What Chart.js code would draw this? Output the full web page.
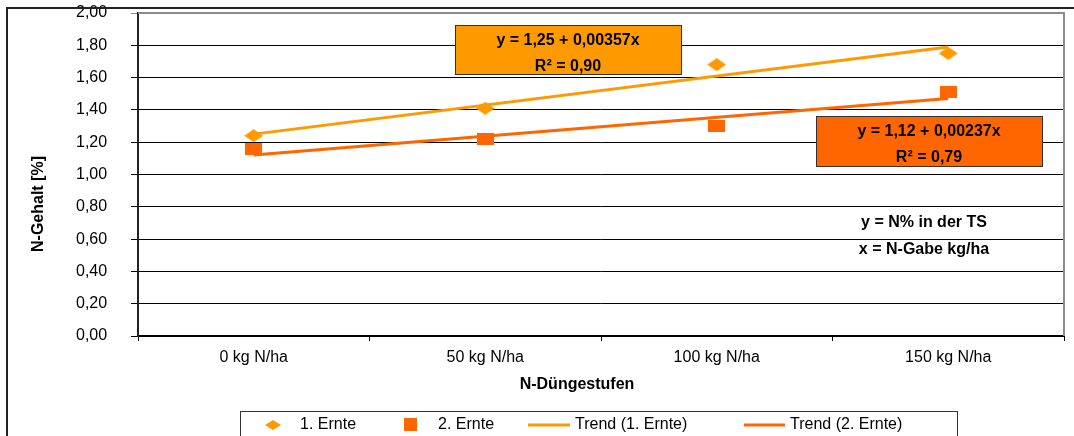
<!DOCTYPE html>
<html>
  <head>
    <title>N-Gehalt</title>
    <meta charset="utf-8" />
    <style>
      body { margin: 0; background: #fff; }
      #chart-container { width: 1074px; height: 436px; }
    </style>
  </head>
  <body>
    <div id="chart-container">
      <canvas id="n-chart" width="1074" height="436"></canvas>
    </div>

    <script src="https://cdn.jsdelivr.net/npm/chart.js"></script>
    <script>
      // values
      var stufen = ["0 kg N/ha", "50 kg N/ha", "100 kg N/ha", "150 kg N/ha"];
      var ernte1 = [1.24, 1.41, 1.68, 1.75];
      var ernte2 = [1.16, 1.22, 1.30, 1.51];
      // trend lines: start and end values, gaps in between
      var trend1 = [1.25, null, null, 1.79];
      var trend2 = [1.12, null, null, 1.47];
      var seriesNames = ["1. Ernte", "2. Ernte", "Trend (1. Ernte)", "Trend (2. Ernte)"];
      var yTicks = [0, 0.2, 0.4, 0.6, 0.8, 1.0, 1.2, 1.4, 1.6, 1.8, 2.0];

      var hell = "#FF9900";
      var dunkel = "#FF6600";
      var font = 'Arial, "Liberation Sans", sans-serif';

      Chart.defaults.font.family = font;
      Chart.defaults.font.size = 16;
      Chart.defaults.color = "#000";

      function makeDiamond(w, h, color) {
        var c = document.createElement("canvas");
        c.width = w;
        c.height = h;
        var g = c.getContext("2d");
        g.fillStyle = color;
        g.beginPath();
        g.moveTo(w / 2, 0);
        g.lineTo(w, h / 2);
        g.lineTo(w / 2, h);
        g.lineTo(0, h / 2);
        g.closePath();
        g.fill();
        return c;
      }

      function makeSquare(w, h, color) {
        var c = document.createElement("canvas");
        c.width = w;
        c.height = h;
        var g = c.getContext("2d");
        g.fillStyle = color;
        g.fillRect(0, 0, w, h);
        return c;
      }

      function fmt(v) {
        return v.toFixed(2).replace(".", ",");
      }

      var extras = {
        id: "extras",
        afterDraw: function (chart) {
          var ctx = chart.ctx;
          var a = chart.chartArea;
          ctx.save();

          // outer frame (left + top)
          ctx.strokeStyle = "#222";
          ctx.lineWidth = 2;
          ctx.beginPath();
          ctx.moveTo(7, 436);
          ctx.lineTo(7, 8);
          ctx.lineTo(1074, 8);
          ctx.stroke();

          // plot area border top/right
          ctx.strokeStyle = "#8c8c8c";
          ctx.lineWidth = 2;
          ctx.beginPath();
          ctx.moveTo(a.left, a.top);
          ctx.lineTo(a.right, a.top);
          ctx.lineTo(a.right, a.bottom);
          ctx.stroke();

          // equation boxes
          function box(x1, y1, x2, y2, fill, l1, l2, ty1, ty2) {
            ctx.fillStyle = fill;
            ctx.fillRect(x1, y1, x2 - x1, y2 - y1);
            ctx.strokeStyle = "#333";
            ctx.lineWidth = 1;
            ctx.strokeRect(x1 + 0.5, y1 + 0.5, x2 - x1, y2 - y1);
            ctx.fillStyle = "#000";
            ctx.font = "bold 16px " + font;
            ctx.textAlign = "center";
            ctx.textBaseline = "middle";
            ctx.fillText(l1, (x1 + x2) / 2, ty1);
            ctx.fillText(l2, (x1 + x2) / 2, ty2);
          }
          box(455, 25, 681, 74, hell, "y = 1,25 + 0,00357x", "R\u00B2 = 0,90", 41, 67);
          box(816, 116, 1042, 166, dunkel, "y = 1,12 + 0,00237x", "R\u00B2 = 0,79", 132, 158);

          ctx.font = "bold 16px " + font;
          ctx.fillStyle = "#000";
          ctx.textAlign = "center";
          ctx.textBaseline = "middle";
          ctx.fillText("y = N% in der TS", 924, 223);
          ctx.fillText("x = N-Gabe kg/ha", 924, 250);

          // axis titles
          ctx.fillText("N-D\u00FCngestufen", 577, 385);
          ctx.save();
          ctx.translate(39, 204);
          ctx.rotate(-Math.PI / 2);
          ctx.fillText("N-Gehalt [%]", 0, 0);
          ctx.restore();

          // legend
          ctx.strokeStyle = "#333";
          ctx.lineWidth = 1;
          ctx.strokeRect(240.5, 411.5, 717, 40);
          var ly = 425;
          ctx.drawImage(makeDiamond(16, 10, hell), 265, ly - 5);
          ctx.drawImage(makeSquare(13, 13, dunkel), 404, ly - 7);
          ctx.lineWidth = 3;
          ctx.strokeStyle = hell;
          ctx.beginPath();
          ctx.moveTo(528, ly);
          ctx.lineTo(570, ly);
          ctx.stroke();
          ctx.strokeStyle = dunkel;
          ctx.beginPath();
          ctx.moveTo(744, ly);
          ctx.lineTo(785, ly);
          ctx.stroke();
          ctx.font = "16px " + font;
          ctx.fillStyle = "#000";
          ctx.textAlign = "left";
          ctx.fillText(seriesNames[0], 300, ly);
          ctx.fillText(seriesNames[1], 438, ly);
          ctx.fillText(seriesNames[2], 575, ly);
          ctx.fillText(seriesNames[3], 790, ly);

          ctx.restore();
        },
      };

      var chart = new Chart(document.getElementById("n-chart"), {
        type: "line",
        data: {
          labels: stufen,
          datasets: [
            {
              label: seriesNames[0],
              data: ernte1,
              showLine: false,
              pointStyle: makeDiamond(19, 13, hell),
              backgroundColor: hell,
              borderColor: hell,
            },
            {
              label: seriesNames[1],
              data: ernte2,
              showLine: false,
              pointStyle: makeSquare(17, 12, dunkel),
              backgroundColor: dunkel,
              borderColor: dunkel,
            },
            {
              label: seriesNames[2],
              data: trend1,
              spanGaps: true,
              borderColor: hell,
              borderWidth: 3,
              pointRadius: 0,
              tension: 0,
              order: -1,
            },
            {
              label: seriesNames[3],
              data: trend2,
              spanGaps: true,
              borderColor: dunkel,
              borderWidth: 3,
              pointRadius: 0,
              tension: 0,
              order: -1,
            },
          ],
        },
        options: {
          responsive: false,
          devicePixelRatio: 1,
          animation: false,
          layout: { padding: { left: 76, top: 13, right: 10, bottom: 0 } },
          plugins: {
            legend: { display: false },
            tooltip: { enabled: false },
          },
          scales: {
            x: {
              offset: true,
              grid: {
                offset: true,
                drawOnChartArea: false,
                drawTicks: true,
                tickLength: 5,
                color: "#000",
              },
              border: { color: "#000", width: 2 },
              ticks: { padding: 7, maxRotation: 0 },
              afterFit: function (scale) {
                scale.height = 100;
              },
            },
            y: {
              min: 0,
              max: 2,
              afterBuildTicks: function (scale) {
                scale.ticks = yTicks.map(function (v) {
                  return { value: v };
                });
              },
              grid: {
                color: function (c) {
                  return c.tick && c.tick.value === 2 ? "#8c8c8c" : "#000";
                },
                tickLength: 7,
              },
              border: { color: "#222", width: 2 },
              ticks: {
                padding: 0,
                crossAlign: "far",
                callback: function (v) {
                  return fmt(v);
                },
              },
              afterFit: function (scale) {
                scale.width = 62;
              },
            },
          },
        },
        plugins: [extras],
      });
    </script>
  </body>
</html>
